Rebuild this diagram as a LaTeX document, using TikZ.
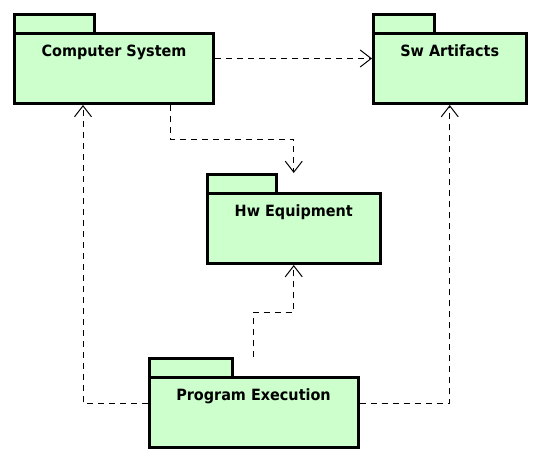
\documentclass[tikz,border=0pt]{standalone}
\usepackage{fontspec}
\newfontfamily\pkgfont{DejaVu Sans}[FakeStretch=0.93]
\usepackage{xcolor}
\usepackage{tikz}
\usetikzlibrary{arrows.meta,positioning}
\definecolor{pkggreen}{RGB}{204,255,204}

\begin{document}
\begin{tikzpicture}[x=1pt, y=-1pt,
  pkg/.style={draw, line width=3pt, fill=pkggreen, inner xsep=0pt, inner ysep=0pt,
    text height=22.6pt, text depth=47.4pt, anchor=north west,
    font=\pkgfont\bfseries\fontsize{15.5}{18}\selectfont},
  pkgtab/.style={draw, line width=3pt, fill=pkggreen},
  dep/.style={dash pattern=on 6pt off 5pt, line width=1pt,
    -{Straight Barb[length=11pt,width=17pt]}}]
\useasboundingbox (0,0) rectangle (540,461);

\node[pkg, minimum width=199pt] (cs) at (13,32) {Computer System};
\node[pkg, minimum width=152.5pt] (sa) at (372,32) {Sw Artifacts};
\node[pkg, minimum width=172.5pt] (hw) at (206,192) {Hw Equipment};
\node[pkg, minimum width=209pt] (pe) at (147.5,376) {Program Execution};

\draw[pkgtab] ([shift={(1.5,1.5)}]cs.north west) rectangle +(79.5,-19);
\draw[pkgtab] ([shift={(1.5,1.5)}]sa.north west) rectangle +(60.5,-19);
\draw[pkgtab] ([shift={(1.5,1.5)}]hw.north west) rectangle +(68.5,-19);
\draw[pkgtab] ([shift={(1.5,1.5)}]pe.north west) rectangle +(83,-19);

\coordinate (hwtop) at ([yshift=19pt]hw.north);
\coordinate (petop) at ([yshift=19pt]pe.north);

\draw[dep] ([yshift=10pt]cs.east) -- ([yshift=10pt]sa.west);
\draw[dep] ([xshift=56pt]cs.south) -- ++(0,34) -| (hwtop);
\draw[dep] (petop) -- ++(0,-45) -| (hw.south);
\draw[dep] ([yshift=9.5pt]pe.west) -| ([xshift=-31pt]cs.south);
\draw[dep] ([yshift=9.5pt]pe.east) -| (sa.south);
\end{tikzpicture}
\end{document}
